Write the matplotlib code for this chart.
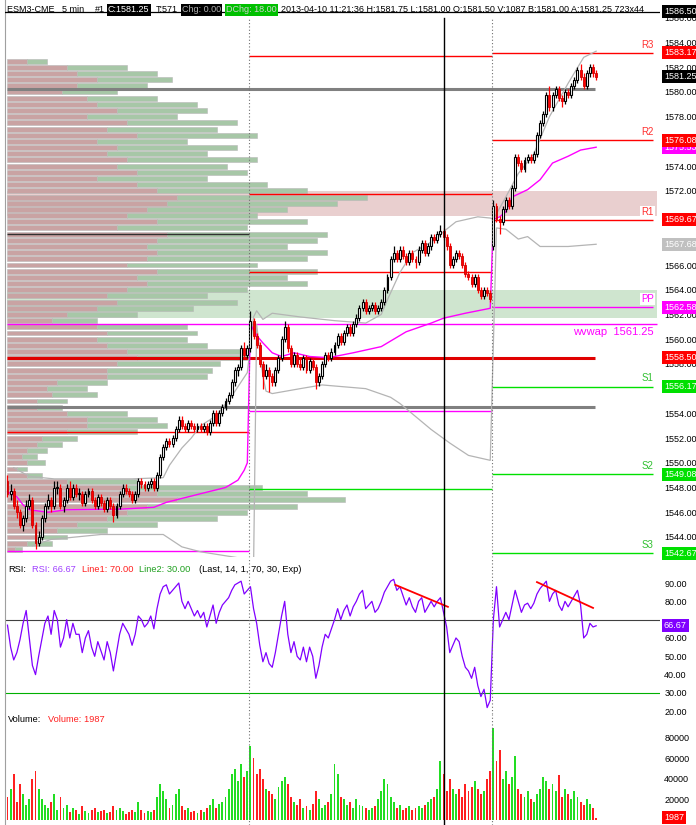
import matplotlib
matplotlib.use("Agg")
import matplotlib.pyplot as plt
import matplotlib.transforms as mtransforms
import numpy as np

plt.rcParams['font.family'] = ['Liberation Sans', 'DejaVu Sans']

### 5 min bars (open, high, low, close), three sessions
day1_bars = [
    (1548.5, 1549.0, 1547.25, 1547.5), (1547.5, 1548.25, 1547.0, 1547.75), (1547.75, 1548.0, 1546.25, 1546.5),
    (1546.5, 1547.0, 1545.5, 1546.0), (1546.0, 1546.25, 1544.75, 1545.0), (1545.0, 1545.75, 1544.5, 1545.5),
    (1545.5, 1547.0, 1545.25, 1546.5), (1546.5, 1547.5, 1546.25, 1547.0), (1547.0, 1547.25, 1544.75, 1545.0),
    (1545.0, 1545.25, 1543.0, 1543.5), (1543.5, 1544.5, 1543.25, 1544.0), (1544.0, 1545.75, 1543.75, 1545.5),
    (1545.5, 1546.75, 1545.25, 1546.5), (1546.5, 1547.5, 1546.25, 1547.0), (1547.0, 1547.25, 1546.0, 1546.5),
    (1546.5, 1548.5, 1546.25, 1548.0), (1548.0, 1548.5, 1547.5, 1548.0), (1548.0, 1548.25, 1546.25, 1546.5),
    (1546.5, 1547.25, 1546.0, 1547.0), (1547.0, 1548.25, 1546.75, 1548.0), (1548.0, 1548.5, 1547.0, 1547.25),
    (1547.25, 1548.25, 1547.0, 1548.0), (1548.0, 1548.25, 1547.25, 1547.5), (1547.5, 1548.0, 1547.0, 1547.5),
    (1547.5, 1547.75, 1546.5, 1546.75), (1546.75, 1547.75, 1546.5, 1547.5), (1547.5, 1548.0, 1547.25, 1547.75),
    (1547.75, 1548.0, 1546.75, 1547.0), (1547.0, 1547.25, 1546.25, 1546.5), (1546.5, 1547.5, 1546.25, 1547.25),
    (1547.25, 1547.5, 1546.5, 1546.75), (1546.75, 1547.0, 1546.0, 1546.25), (1546.25, 1547.25, 1546.0, 1547.0),
    (1547.0, 1547.25, 1546.25, 1546.5), (1546.5, 1546.75, 1545.25, 1545.75), (1545.75, 1546.75, 1545.5, 1546.5),
    (1546.5, 1547.75, 1546.25, 1547.5), (1547.5, 1548.25, 1547.25, 1548.0), (1548.0, 1548.25, 1547.5, 1547.75),
    (1547.75, 1548.0, 1547.25, 1547.5), (1547.5, 1547.75, 1546.75, 1547.0), (1547.0, 1547.75, 1546.75, 1547.5),
    (1547.5, 1548.75, 1547.25, 1548.5), (1548.5, 1548.75, 1548.0, 1548.25), (1548.25, 1548.5, 1547.75, 1548.0),
    (1548.0, 1548.5, 1547.75, 1548.25), (1548.25, 1548.75, 1548.0, 1548.5), (1548.5, 1548.75, 1547.75, 1548.0),
    (1548.0, 1549.25, 1547.75, 1549.0), (1549.0, 1550.75, 1548.75, 1550.5), (1550.5, 1551.5, 1550.25, 1551.25),
    (1551.25, 1552.0, 1551.0, 1551.75), (1551.75, 1552.0, 1551.25, 1551.5), (1551.5, 1552.25, 1551.25, 1552.0),
    (1552.0, 1553.0, 1551.75, 1552.75), (1552.75, 1553.75, 1552.5, 1553.5), (1553.5, 1553.75, 1552.75, 1553.0),
    (1553.0, 1553.25, 1552.5, 1552.75), (1552.75, 1553.5, 1552.5, 1553.25), (1553.25, 1553.5, 1552.75, 1553.0),
    (1553.0, 1553.25, 1552.5, 1552.75), (1552.75, 1553.25, 1552.5, 1553.0), (1553.0, 1553.25, 1552.5, 1552.75),
    (1552.75, 1553.25, 1552.5, 1553.0), (1553.0, 1553.25, 1552.25, 1552.5), (1552.5, 1553.5, 1552.25, 1553.25),
    (1553.25, 1554.25, 1553.0, 1554.0), (1554.0, 1554.25, 1553.0, 1553.25), (1553.25, 1554.25, 1553.0, 1554.0),
    (1554.0, 1554.75, 1553.75, 1554.5), (1554.5, 1555.25, 1554.25, 1555.0), (1555.0, 1555.75, 1554.75, 1555.5),
    (1555.5, 1556.75, 1555.25, 1556.5), (1556.5, 1557.75, 1556.25, 1557.5), (1557.5, 1558.0, 1557.0, 1557.75),
    (1557.75, 1559.5, 1557.5, 1559.25), (1559.25, 1559.75, 1558.5, 1558.75), (1558.75, 1559.5, 1558.5, 1559.25),
]
day2_bars = [
    (1559.25, 1562.25, 1559.0, 1561.5), (1561.5, 1561.75, 1560.0, 1560.25), (1560.25, 1560.5, 1559.25, 1559.5),
    (1559.5, 1559.75, 1557.75, 1558.0), (1558.0, 1558.25, 1556.0, 1557.0), (1557.0, 1558.0, 1556.75, 1557.5),
    (1557.5, 1557.75, 1555.75, 1557.0), (1557.0, 1557.25, 1556.25, 1556.5), (1556.5, 1557.75, 1556.25, 1557.5),
    (1557.5, 1558.75, 1557.25, 1558.5), (1558.5, 1560.25, 1558.25, 1560.0), (1560.0, 1561.5, 1559.75, 1561.0),
    (1561.0, 1561.25, 1559.0, 1559.25), (1559.25, 1559.5, 1557.75, 1558.0), (1558.0, 1559.0, 1557.75, 1558.75),
    (1558.75, 1559.0, 1557.75, 1558.0), (1558.0, 1558.5, 1557.5, 1557.75), (1557.75, 1558.75, 1557.5, 1558.5),
    (1558.5, 1558.75, 1557.25, 1557.5), (1557.5, 1558.5, 1557.25, 1558.25), (1558.25, 1558.5, 1557.5, 1557.75),
    (1557.75, 1558.0, 1556.0, 1556.5), (1556.5, 1557.25, 1556.25, 1557.0), (1557.0, 1558.25, 1556.75, 1558.0),
    (1558.0, 1559.0, 1557.75, 1558.75), (1558.75, 1559.0, 1558.25, 1558.5), (1558.5, 1559.25, 1558.25, 1559.0),
    (1559.0, 1559.75, 1558.75, 1559.5), (1559.5, 1560.5, 1559.25, 1560.25), (1560.25, 1560.5, 1559.5, 1559.75),
    (1559.75, 1560.75, 1559.5, 1560.5), (1560.5, 1561.25, 1560.25, 1561.0), (1561.0, 1561.25, 1560.25, 1560.5),
    (1560.5, 1561.5, 1560.25, 1561.25), (1561.25, 1562.0, 1561.0, 1561.75), (1561.75, 1562.75, 1561.5, 1562.5),
    (1562.5, 1563.25, 1562.25, 1563.0), (1563.0, 1563.25, 1562.0, 1562.25), (1562.25, 1562.75, 1562.0, 1562.5),
    (1562.5, 1563.0, 1562.25, 1562.75), (1562.75, 1563.0, 1562.0, 1562.25), (1562.25, 1562.75, 1562.0, 1562.5),
    (1562.5, 1563.25, 1562.25, 1563.0), (1563.0, 1564.25, 1562.75, 1564.0), (1564.0, 1565.25, 1563.75, 1565.0),
    (1565.0, 1566.75, 1564.75, 1566.5), (1566.5, 1567.5, 1566.25, 1567.0), (1567.0, 1567.25, 1566.25, 1566.5),
    (1566.5, 1567.5, 1566.25, 1567.25), (1567.25, 1567.5, 1566.5, 1566.75), (1566.75, 1567.0, 1566.0, 1566.25),
    (1566.25, 1567.25, 1566.0, 1567.0), (1567.0, 1567.25, 1566.25, 1566.5), (1566.5, 1566.75, 1565.75, 1566.25),
    (1566.25, 1567.5, 1566.0, 1567.25), (1567.25, 1568.0, 1567.0, 1567.75), (1567.75, 1568.0, 1566.75, 1567.0),
    (1567.0, 1567.75, 1566.75, 1567.5), (1567.5, 1568.5, 1567.25, 1568.25), (1568.25, 1568.5, 1567.75, 1568.0),
    (1568.0, 1568.75, 1567.75, 1568.5), (1568.5, 1569.25, 1568.25, 1568.75), (1568.75, 1569.0, 1568.0, 1568.25),
    (1568.25, 1568.5, 1567.25, 1567.5), (1567.5, 1567.75, 1565.75, 1566.0), (1566.0, 1566.75, 1565.75, 1566.5),
    (1566.5, 1567.25, 1566.25, 1567.0), (1567.0, 1567.25, 1566.5, 1566.75), (1566.75, 1567.0, 1565.75, 1566.0),
    (1566.0, 1566.25, 1565.0, 1565.25), (1565.25, 1565.5, 1564.75, 1565.0), (1565.0, 1565.25, 1564.25, 1564.5),
    (1564.5, 1565.25, 1564.25, 1565.0), (1565.0, 1565.25, 1563.75, 1564.0), (1564.0, 1564.25, 1563.25, 1563.5),
    (1563.5, 1564.25, 1563.25, 1564.0), (1564.0, 1564.25, 1563.5, 1563.75), (1563.75, 1564.0, 1563.0, 1563.25),
]
day3_bars = [
    (1567.5, 1571.25, 1567.25, 1570.75), (1570.75, 1571.0, 1569.5, 1569.75), (1569.75, 1570.0, 1568.5, 1569.5),
    (1569.5, 1570.75, 1569.25, 1570.5), (1570.5, 1571.5, 1570.25, 1571.25), (1571.25, 1571.5, 1570.5, 1570.75),
    (1570.75, 1572.5, 1570.5, 1572.25), (1572.25, 1575.0, 1572.0, 1574.75), (1574.75, 1575.0, 1574.0, 1574.25),
    (1574.25, 1574.5, 1573.5, 1573.75), (1573.75, 1574.75, 1573.5, 1574.5), (1574.5, 1575.0, 1574.25, 1574.75),
    (1574.75, 1575.0, 1574.25, 1574.5), (1574.5, 1575.25, 1574.25, 1575.0), (1575.0, 1576.75, 1574.75, 1576.5),
    (1576.5, 1577.75, 1576.25, 1577.5), (1577.5, 1578.5, 1577.25, 1578.25), (1578.25, 1580.0, 1578.0, 1579.75),
    (1579.75, 1580.5, 1578.5, 1578.75), (1578.75, 1580.0, 1578.5, 1579.75), (1579.75, 1580.5, 1579.5, 1580.25),
    (1580.25, 1580.5, 1579.25, 1579.5), (1579.5, 1579.75, 1578.75, 1579.25), (1579.25, 1580.25, 1579.0, 1580.0),
    (1580.0, 1580.25, 1579.5, 1579.75), (1579.75, 1580.75, 1579.5, 1580.5), (1580.5, 1581.25, 1580.25, 1581.0),
    (1581.0, 1582.0, 1580.75, 1581.75), (1581.75, 1582.25, 1581.0, 1581.25), (1581.25, 1581.5, 1580.25, 1580.5),
    (1580.5, 1581.75, 1580.25, 1581.5), (1581.5, 1582.25, 1581.25, 1582.0), (1582.0, 1582.25, 1581.25, 1581.5),
    (1581.5, 1581.75, 1581.0, 1581.25),
]

### volume per bar, thousands of contracts
day1_volume = [22, 30, 45, 18, 35, 25, 15, 20, 40, 48, 30, 20, 15, 12, 18, 25, 10, 22, 12, 15,
               8, 12, 10, 6, 14, 9, 7, 10, 12, 8, 9, 10, 7, 8, 14, 10, 12, 9, 6, 8,
               10, 8, 18, 10, 7, 9, 8, 10, 22, 35, 28, 20, 12, 15, 25, 30, 14, 10, 12, 8,
               9, 7, 10, 8, 12, 15, 20, 12, 16, 18, 22, 30, 45, 50, 38, 55, 42, 48]
day2_volume = [72, 60, 45, 50, 40, 30, 28, 25, 20, 32, 38, 42, 35, 22, 18, 15, 20, 12, 14, 10,
               16, 28, 20, 12, 15, 18, 25, 55, 45, 22, 20, 15, 18, 12, 20, 15, 14, 12, 10, 12,
               14, 20, 28, 40, 35, 22, 18, 12, 15, 10, 12, 14, 10, 12, 14, 12, 15, 18, 20, 22,
               30, 58, 45, 28, 40, 30, 25, 30, 22, 35, 28, 32, 38, 30, 25, 28, 40, 48]
day3_volume = [90, 58, 68, 40, 48, 35, 42, 62, 30, 25, 22, 28, 20, 18, 25, 30, 42, 38, 30, 35,
               28, 44, 22, 30, 25, 20, 28, 22, 18, 15, 20, 16, 12, 1.987]

### RSI(14) per bar
day1_rsi = [67, 55, 48, 52, 59, 68, 75, 60, 45, 40, 50, 59, 68, 72, 62, 75, 70, 55, 60, 70,
            60, 68, 62, 62, 52, 60, 64, 55, 50, 58, 53, 48, 58, 52, 42, 52, 62, 68, 65, 62,
            56, 62, 72, 70, 66, 68, 72, 65, 76, 84, 88, 89, 84, 86, 88, 90, 80, 76, 80, 76,
            72, 75, 71, 74, 66, 72, 78, 68, 74, 78, 80, 82, 86, 89, 90, 91, 84, 86]
day2_rsi = [88, 76, 68, 56, 47, 52, 46, 44, 52, 62, 72, 80, 62, 52, 58, 50, 48, 55, 47, 55,
            50, 38, 45, 55, 62, 60, 65, 70, 76, 70, 75, 78, 72, 77, 80, 84, 86, 76, 78, 80,
            74, 76, 80, 85, 88, 91, 92, 86, 88, 83, 78, 82, 77, 74, 80, 82, 74, 77, 80, 77,
            80, 82, 74, 66, 52, 56, 60, 58, 50, 44, 42, 38, 44, 34, 28, 32, 22, 26]
day3_rsi = [70, 88, 66, 70, 74, 70, 78, 86, 80, 74, 78, 79, 76, 79, 84, 87, 89, 91, 80, 84,
            86, 78, 75, 80, 77, 80, 83, 86, 78, 60, 62, 68, 66, 66.67]

### session vwap and bands (bar index, price)
vwap_pts = [(0, 1547.66), (3, 1547.25), (5, 1546.6), (7, 1546.2), (13, 1546.0), (19, 1546.2), (36, 1546.25),
            (47, 1546.4), (51, 1546.8), (62, 1547.5), (70, 1548.0), (74, 1548.6), (76, 1549.4), (77, 1550.0),
            (78, 1561.2), (80, 1560.3), (82, 1559.7), (85, 1558.9), (88, 1558.6), (92, 1558.9), (97, 1558.6),
            (103, 1558.5), (111, 1558.9), (120, 1559.4), (124, 1560.0), (128, 1560.6), (136, 1561.3),
            (140, 1561.7), (147, 1562.1), (155, 1562.5),
            (156, 1569.7), (158, 1569.9), (160, 1570.3), (162, 1571.5), (167, 1572.1), (171, 1572.9),
            (175, 1574.25), (180, 1574.8), (184, 1575.3), (189, 1575.53)]
upper_band = [(2, 1549.6), (7, 1548.9), (15, 1548.7), (40, 1548.7), (50, 1548.8), (52, 1549.8), (56, 1551.2),
              (59, 1552.0), (62, 1553.0), (67, 1553.8), (72, 1555.4), (77, 1557.3),
              (79, 1561.8), (80, 1562.3), (82, 1561.6), (85, 1562.1), (94, 1561.8), (105, 1561.5), (115, 1561.3),
              (120, 1562.0), (122, 1563.2), (126, 1565.4), (130, 1567.0), (137, 1568.0), (140, 1568.7),
              (144, 1569.5), (151, 1569.9), (155, 1569.8),
              (156, 1569.7), (160, 1571.5), (164, 1573.4), (169, 1575.0), (174, 1578.0), (180, 1580.7),
              (185, 1582.8), (189, 1583.3)]
lower_band = [(8, 1543.3), (14, 1543.8), (30, 1544.2), (50, 1544.2), (56, 1543.2), (62, 1542.8),
              (72, 1542.4), (77, 1542.2), (79, 1541.5),
              (80, 1561.2), (81, 1559.0), (82, 1557.0), (83, 1555.8), (85, 1555.6), (94, 1556.0), (101, 1556.3),
              (115, 1556.0), (123, 1555.3), (126, 1554.8), (136, 1552.7), (142, 1551.6), (148, 1550.6),
              (155, 1550.2),
              (157, 1569.0), (160, 1568.9), (164, 1568.1), (167, 1568.3), (171, 1567.5), (180, 1567.5),
              (189, 1567.68)]

### volume profile, 0.5 pt rows from the top down (sell part, buy part)
profile_top = 1582.5
profile_sell = [20, 60, 70, 90, 70, 55, 80, 90, 110, 80, 120, 100, 130, 90, 110, 100, 120, 110, 130, 90,
                130, 150, 170, 160, 140, 120, 150, 110, 160, 150, 140, 150, 140, 120, 150, 130, 140, 120, 100, 110,
                90, 60, 45, 90, 100, 90, 100, 120, 130, 110, 100, 100, 50, 40, 45, 30, 30, 60, 80, 80,
                60, 35, 30, 20, 15, 20, 10, 20, 60, 120, 150, 170, 140, 120, 100, 70, 50, 30, 20, 8]
profile_buy = [20, 60, 80, 75, 70, 55, 70, 100, 90, 90, 110, 110, 120, 90, 120, 100, 130, 110, 110, 110,
               130, 150, 190, 170, 140, 130, 150, 130, 160, 160, 140, 170, 160, 130, 160, 150, 160, 120, 100, 120,
               96, 70, 45, 90, 90, 90, 100, 120, 110, 103, 105, 100, 50, 40, 45, 30, 25, 60, 70, 80,
               70, 35, 25, 20, 15, 18, 10, 15, 70, 135, 150, 168, 150, 120, 110, 80, 50, 30, 25, 7]

### pivot levels per session
day3_pivots = {'R3': 1583.17, 'R2': 1576.08, 'R1': 1569.67, 'PP': 1562.58,
               'S1': 1556.17, 'S2': 1549.08, 'S3': 1542.67}
day2_pivots = [1582.9, 1571.75, 1565.4, 1554.2, 1547.9]
day2_pivot_colors = ['red', 'red', 'red', 'magenta', '#00e000']
day1_pivots = [1568.5, 1552.5, 1542.9]
day1_pivot_colors = ['#303030', 'red', 'magenta']
prior_levels = [1580.25, 1558.5, 1554.5]
prior_colors = ['#808080', '#e00000', '#808080']
wvwap_level = 1561.25
top_level = 1586.5
red_zone = (1570.0, 1572.0)
green_zone = (1561.7, 1564.0)
rsi_trend = [((124.5, 89.0), (141.4, 77.0)), ((170.0, 90.5), (188.0, 76.4))]
price_ticks = [1544, 1546, 1548, 1550, 1552, 1554, 1558, 1560, 1562, 1564, 1566, 1572, 1574, 1578, 1580, 1582,
               1584, 1586]

bars = day1_bars + day2_bars + day3_bars
volume = np.array(day1_volume + day2_volume + day3_volume) * 1000
rsi = day1_rsi + day2_rsi + day3_rsi
n1, n2 = len(day1_bars), len(day2_bars)
s2, s3 = n1 - 0.5, n1 + n2 - 0.5   ### session breaks
cursor = 140
last = len(bars) - 1

o = np.array([b[0] for b in bars]); h = np.array([b[1] for b in bars])
l = np.array([b[2] for b in bars]); c = np.array([b[3] for b in bars])
idx = np.arange(len(bars))
up = c >= o

W, H = 696, 825
fig = plt.figure(figsize=(W / 100, H / 100), dpi=100)

def rect(x0, y0, x1, y1):
    return [x0 / W, 1 - y1 / H, (x1 - x0) / W, (y1 - y0) / H]

ax_p = fig.add_axes(rect(5, 0, 660, 557))
ax_r = fig.add_axes(rect(5, 557, 660, 714), sharex=ax_p)
ax_v = fig.add_axes(rect(5, 714, 660, 825), sharex=ax_p)

x_lo, x_hi = -0.8, 209.5
line_end = 188.6
tag_end = 207.2
for ax in (ax_p, ax_r, ax_v):
    ax.set_xlim(x_lo, x_hi)
    for s in ('top', 'right', 'bottom'):
        ax.spines[s].set_visible(False)
    ax.spines['left'].set_color('#a0a0a0')
    ax.tick_params(axis='x', bottom=False, labelbottom=False)
    ax.yaxis.tick_right()
    ax.tick_params(axis='y', length=0, pad=3, labelsize=6.5)
    top = 1 - 18 / 557 if ax is ax_p else 1
    ax.axvline(s2, ymax=top, color='#707070', lw=0.8, ls=(0, (1, 2)), zorder=5)
    ax.axvline(s3, ymax=top, color='#707070', lw=0.8, ls=(0, (1, 2)), zorder=5)
    ax.axvline(cursor, ymax=top, color='black', lw=1.0, zorder=5)

### ---------------- price panel ----------------
ax_p.set_ylim(1542.38, 1587.44)
ax_p.set_yticks(price_ticks)
ax_p.yaxis.set_major_formatter(plt.FormatStrFormatter('%.2f'))

ax_p.axhspan(*red_zone, xmin=0.003, xmax=0.995, color='#e9cfcf', zorder=0.5, lw=0)
ax_p.axhspan(*green_zone, xmin=0.003, xmax=0.995, color='#cfe5cf', zorder=0.5, lw=0)

prof_levels = profile_top - 0.5 * np.arange(len(profile_sell))
px_per_bar = 3.115
sell_w = np.array(profile_sell) / px_per_bar
buy_w = np.array(profile_buy) / px_per_bar
ax_p.barh(prof_levels, sell_w, left=-0.1, height=0.4, color='#c9a3a3', ec='#b8b8b8', lw=0.4, zorder=1)
ax_p.barh(prof_levels, buy_w, left=-0.1 + sell_w, height=0.4, color='#a7c7a7', ec='#b8b8b8', lw=0.4, zorder=1)

ax_p.axhline(top_level, color='black', lw=0.9, zorder=4)
for lvl, col in zip(prior_levels, prior_colors):
    ax_p.hlines(lvl, -0.2, line_end, color=col, lw=2.2, zorder=2)
ax_p.hlines(wvwap_level, -0.2, 208.5, color='#ff00ff', lw=1.0, zorder=2)
for lvl, col in zip(day1_pivots, day1_pivot_colors):
    ax_p.hlines(lvl, -0.2, s2, color=col, lw=1.0, zorder=2)
for lvl, col in zip(day2_pivots, day2_pivot_colors):
    ax_p.hlines(lvl, s2, s3, color=col, lw=1.0, zorder=2)
piv_col = {'R': '#ff0000', 'P': '#ff00ff', 'S': '#00e000'}
lab_col = {'R': '#ff3030', 'P': '#ff00ff', 'S': '#30c030'}
for name, lvl in day3_pivots.items():
    ax_p.hlines(lvl, s3, tag_end, color=piv_col[name[0]], lw=1.0, zorder=2)
    ax_p.text(205.5, lvl + 0.25, name, color=lab_col[name[0]], fontsize=7, ha='center', va='bottom',
              zorder=3, bbox=dict(boxstyle='square,pad=0.1', fc='white', ec='none'))
ax_p.text(207.5, wvwap_level - 0.3, 'wvwap  1561.25', color='#ff00ff', fontsize=8, ha='right', va='top', zorder=3)

### vwap and bands
ax_p.plot([p[0] for p in upper_band], [p[1] for p in upper_band], color='#b4b4b4', lw=0.9, zorder=2.2)
ax_p.plot([p[0] for p in lower_band], [p[1] for p in lower_band], color='#b4b4b4', lw=0.9, zorder=2.2)
ax_p.plot([p[0] for p in vwap_pts], [p[1] for p in vwap_pts], color='#ff00ff', lw=1.0, zorder=2.3)

### candles
wick_col = np.where(up, 'black', '#ff0000')
ax_p.vlines(idx, l, h, colors=wick_col, lw=0.9, zorder=3)
body = np.where(np.abs(c - o) < 0.05, 0.06, c - o)
ax_p.bar(idx[up], body[up], bottom=o[up], width=0.62, color='white', ec='black', lw=0.8, zorder=3.5)
ax_p.bar(idx[~up], body[~up], bottom=o[~up], width=0.62, color='#ff0000', ec='#cc0000', lw=0.6, zorder=3.5)

### price tags on the right axis
def price_tag(ax, val, text, fc, tc='white', z=6):
    tr = mtransforms.offset_copy(ax.get_yaxis_transform(), fig=fig, x=4, y=0, units='dots')
    ax.text(1.0, val, text, transform=tr, ha='left', va='center', fontsize=6.5, color=tc, zorder=z,
            clip_on=False, bbox=dict(boxstyle='square,pad=0.22', fc=fc, ec='none'))

price_tag(ax_p, top_level, '%.2f' % top_level, 'black')
price_tag(ax_p, day3_pivots['R3'], '%.2f' % day3_pivots['R3'], '#ff0000')
price_tag(ax_p, c[last], '%.2f' % c[last], 'black')
price_tag(ax_p, vwap_pts[-1][1], '%.2f' % vwap_pts[-1][1], '#ff00ff', z=6)
price_tag(ax_p, day3_pivots['R2'], '%.2f' % day3_pivots['R2'], '#ff0000', z=7)
price_tag(ax_p, day3_pivots['R1'], '%.2f' % day3_pivots['R1'], '#ff0000')
price_tag(ax_p, lower_band[-1][1], '%.2f' % lower_band[-1][1], '#c0c0c0')
price_tag(ax_p, day3_pivots['PP'], '%.2f' % day3_pivots['PP'], '#ff00ff')
price_tag(ax_p, prior_levels[1], '%.2f' % prior_levels[1], '#ff0000')
price_tag(ax_p, day3_pivots['S1'], '%.2f' % day3_pivots['S1'], '#00e000')
price_tag(ax_p, day3_pivots['S2'], '%.2f' % day3_pivots['S2'], '#00e000')
price_tag(ax_p, day3_pivots['S3'], '%.2f' % day3_pivots['S3'], '#00e000')

### header line
hdr_y = 1 - 10 / H
def hdr(xpx, text, col='black', fc=None):
    kw = {}
    if fc:
        kw['bbox'] = dict(boxstyle='square,pad=0.15', fc=fc, ec='none')
    fig.text(xpx / W, hdr_y, text, color=col, fontsize=6.5, ha='left', va='center', zorder=3, **kw)

hdr(7, 'ESM3-CME   5 min')
hdr(95, '#1')
hdr(108, 'C:1581.25', 'white', 'black')
hdr(156, 'T:571')
hdr(182, 'Chg: 0.00', '#b0b0b0', 'black')
hdr(226, 'DChg: 18.00', '#d0d0d0', '#00c000')
hdr(281, '2013-04-10 11:21:36 H:1581.75 L:1581.00 O:1581.50 V:1087 B:1581.00 A:1581.25 723x44')

### ---------------- RSI panel ----------------
ax_r.set_ylim(18.5, 104.2)
ax_r.set_yticks([20, 30, 40, 50, 60, 80, 90])
ax_r.yaxis.set_major_formatter(plt.FormatStrFormatter('%.2f'))
ax_r.axhline(70, color='#404040', lw=0.8, zorder=1)
ax_r.axhline(30, color='#00b000', lw=0.8, zorder=1)
ax_r.plot(idx, rsi, color='#8000ff', lw=0.9, zorder=3)
for (x0, y0), (x1, y1) in rsi_trend:
    ax_r.plot([x0, x1], [y0, y1], color='#ff0000', lw=1.3, zorder=4)
price_tag(ax_r, rsi[-1], '%.2f' % rsi[-1], '#8000ff')

lab_y = 1 - 570 / H
fig.text(8 / W, lab_y, 'RSI:', fontsize=6.7, va='center', color='black')
fig.text(32 / W, lab_y, 'RSI: 66.67', fontsize=6.7, va='center', color='#a040ff')
fig.text(82 / W, lab_y, 'Line1: 70.00', fontsize=6.7, va='center', color='#ff2020')
fig.text(139 / W, lab_y, 'Line2: 30.00', fontsize=6.7, va='center', color='#20a020')
fig.text(199 / W, lab_y, '(Last, 14, 1, 70, 30, Exp)', fontsize=6.7, va='center', color='black')

### ---------------- volume panel ----------------
ax_v.set_ylim(-4900, 103400)
ax_v.set_yticks([20000, 40000, 60000, 80000])
ax_v.yaxis.set_major_formatter(plt.FormatStrFormatter('%d'))
ax_v.bar(idx, volume, width=0.6, color=np.where(up, '#22dd22', '#ff2020'), zorder=3)
price_tag(ax_v, volume[-1], '%d' % volume[-1], '#ff0000')
vol_y = 1 - 720 / H
fig.text(8 / W, vol_y, 'Volume:', fontsize=6.7, va='center', color='black')
fig.text(48 / W, vol_y, 'Volume: 1987', fontsize=6.7, va='center', color='#ff2020')

fig.savefig('out.png', dpi=100)
